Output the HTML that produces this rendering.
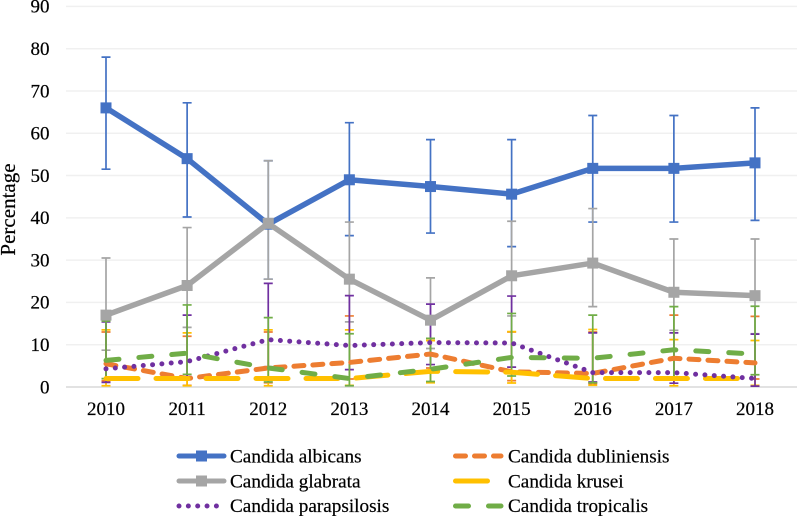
<!DOCTYPE html>
<html lang="en">
<head>
<meta charset="utf-8">
<title>Candida species percentage by year</title>
<style>
html,body{margin:0;padding:0;background:#fff;}
svg{display:block;font-family:"Liberation Serif",serif;fill:#000;}
svg text{stroke:#000;stroke-width:0.2;}
</style>
</head>
<body>
<svg id="chart" xmlns="http://www.w3.org/2000/svg" width="797" height="516" viewBox="0 0 797 516">
<text transform="translate(15,209.5) rotate(-90)" text-anchor="middle" font-size="21">Percentage</text>
</svg>
<script>
const years = ['2010','2011','2012','2013','2014','2015','2016','2017','2018'];
const yTicks = [0,10,20,30,40,50,60,70,80,90];

const albicans     = [66,54,38.5,49,47.4,45.6,51.7,51.7,53];
const albicansHi   = [78,67.2,53.5,62.5,58.5,58.5,64.2,64.2,66];
const albicansLo   = [51.5,40.2,25.5,35.8,36.4,33.2,39,39,39.4];

const dubliniensis   = [5.5,2,4.5,5.8,7.8,3.6,3.2,6.8,5.7];
const dubliniensisHi = [13,12,13,16.8,11,13,13,17,16.7];
const dubliniensisLo = [1.5,0.4,1,1.9,4.5,1.5,0.8,2,1.9];

const glabrata   = [17,24,38.7,25.5,15.8,26.3,29.3,22.4,21.6];
const glabrataHi = [30.5,37.7,53.5,39,25.8,39.2,42.2,35,35];
const glabrataLo = [8.7,14.1,25.5,15.4,9.1,16.8,19,13.4,12.6];

const krusei   = [2,2,2,2,3.7,3.5,2,2,2];
const kruseiHi = [13.5,12.8,13.5,13.5,11,13.1,13.6,11.2,11];
const kruseiLo = [0.3,0.3,0.3,0.4,1,0.95,0.4,0.3,0.4];

const parapsilosis   = [4.3,6,11.2,9.8,10.5,10.4,3.4,3.4,2];
const parapsilosisHi = [15.4,17,24.5,21.6,19.6,21.5,12.8,12.8,12.5];
const parapsilosisLo = [1.1,2.5,4.8,4.1,5.3,4.7,1.2,0.9,0.2];

const tropicalis   = [6.3,8,4.5,2,4.2,7,6.8,8.8,7.8];
const tropicalisHi = [15.6,19.4,16.4,12.6,11.5,17.4,17,19,19.1];
const tropicalisLo = [2,3,1.2,0.3,1.3,2.6,1,2,2.9];

const seriesNames = ['albicans','dubliniensis','glabrata','krusei','parapsilosis','tropicalis'];
const seriesLabels = ['Candida albicans','Candida dubliniensis','Candida glabrata','Candida krusei','Candida parapsilosis','Candida tropicalis'];
const seriesValues = [albicans,dubliniensis,glabrata,krusei,parapsilosis,tropicalis];
const seriesHi = [albicansHi,dubliniensisHi,glabrataHi,kruseiHi,parapsilosisHi,tropicalisHi];
const seriesLo = [albicansLo,dubliniensisLo,glabrataLo,kruseiLo,parapsilosisLo,tropicalisLo];

const svg = document.getElementById('chart');
const NS = 'http://www.w3.org/2000/svg';
const colors = ['#4472C4','#ED7D31','#A5A5A5','#FFC000','#7030A0','#70AD47'];
const dashes = ['', '10 9', '', '32 18', '0 9.35', '13 20'];
const markers = [true,false,true,false,false,false];

function xScale(i){ return 106 + i * (755 - 106) / (years.length - 1); }
function yScale(v){ return 387 - v * (387 - 6.4) / 90; }

function make(tag, attrs){
  const el = document.createElementNS(NS, tag);
  for (const k in attrs) el.setAttribute(k, attrs[k]);
  svg.appendChild(el);
  return el;
}

// Gridlines and y tick labels
yTicks.forEach(function(t){
  const line = make('line', {x1:66, x2:797, y1:yScale(t), y2:yScale(t), stroke:t === 0 ? '#d9d9d9' : '#f0f0f0', 'stroke-width':1.5});
  
  
  const label = make('text', {x:49.5, y:yScale(t) + 6.3, 'text-anchor':'end', 'font-size':19});
  label.textContent = t;
  
  
});

// X tick labels
years.forEach(function(yr, i){
  const label = make('text', {x:xScale(i), y:415, 'text-anchor':'middle', 'font-size':19});
  label.textContent = yr;
  
  
});

// Error bars
seriesValues.forEach(function(vals, s){
  vals.forEach(function(v, i){
    const x = xScale(i);
    const yh = yScale(seriesHi[s][i]);
    const yl = yScale(seriesLo[s][i]);
    const bar = make('path', {
      d:'M' + x + ' ' + yh + 'V' + yl + 'M' + (x - 4.5) + ' ' + yh + 'H' + (x + 4.5) + 'M' + (x - 4.5) + ' ' + yl + 'H' + (x + 4.5),
      stroke:colors[s], 'stroke-width':1.7, fill:'none'
    });
    
    
  });
});

// Series lines and markers
seriesValues.forEach(function(vals, s){
  const pts = vals.map(function(v, i){ return xScale(i) + ',' + yScale(v); }).join(' ');
  const attrs = {points:pts, fill:'none', stroke:colors[s], 'stroke-width':dashes[s] ? 5 : 5.5, 'stroke-linejoin':'round'};
  if (dashes[s]) { attrs['stroke-dasharray'] = dashes[s]; attrs['stroke-linecap'] = 'round'; }
  const line = make('polyline', attrs);
  
  
  if (markers[s]) {
    vals.forEach(function(v, i){
      const m = make('rect', {x:xScale(i) - 5.5, y:yScale(v) - 5.5, width:11, height:11, fill:colors[s]});
      
      
    });
  }
});

// Legend
const legendRows = [456, 481, 506];
const legendBase = [462.3, 487.3, 511.8];
seriesLabels.forEach(function(name, s){
  const col = s % 2;
  const row = Math.floor(s / 2);
  const x1 = col === 0 ? 177 : 453.5;
  const x2 = col === 0 ? 226 : 503;
  const ly = legendRows[row];
  const attrs = {x1:x1 + 2, x2:x2 - 2, y1:ly, y2:ly, stroke:colors[s], 'stroke-width':5, 'stroke-linecap':'round'};
  if (dashes[s]) attrs['stroke-dasharray'] = dashes[s];
  const key = make('line', attrs);
  
  
  if (markers[s]) {
    const m = make('rect', {x:(x1 + x2) / 2 - 5.5, y:ly - 5.5, width:11, height:11, fill:colors[s]});
    
    
  }
  const label = make('text', {x:col === 0 ? 230 : 508, y:legendBase[row], 'font-size':19.2});
  label.textContent = name;
  
  
});
</script>
</body>
</html>
